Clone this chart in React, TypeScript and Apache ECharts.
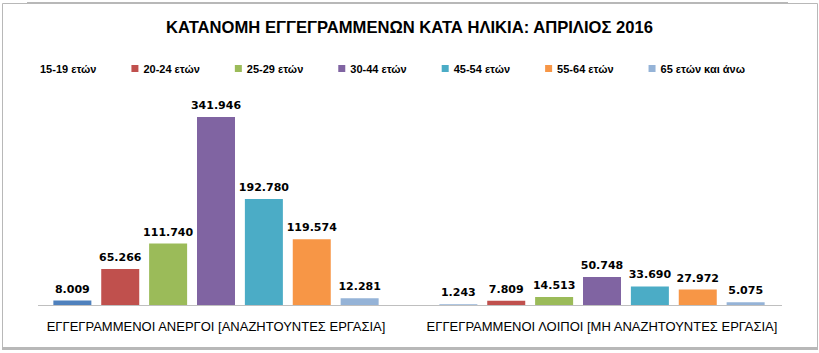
import React, { useEffect, useRef } from "react";
import * as echarts from "echarts";

const title = "ΚΑΤΑΝΟΜΗ ΕΓΓΕΓΡΑΜΜΕΝΩΝ ΚΑΤΑ ΗΛΙΚΙΑ: ΑΠΡΙΛΙΟΣ 2016";
const categories = [
  "ΕΓΓΕΓΡΑΜΜΕΝΟΙ ΑΝΕΡΓΟΙ [ΑΝΑΖΗΤΟΥΝΤΕΣ ΕΡΓΑΣΙΑ]",
  "ΕΓΓΕΓΡΑΜΜΕΝΟΙ ΛΟΙΠΟΙ [ΜΗ ΑΝΑΖΗΤΟΥΝΤΕΣ ΕΡΓΑΣΙΑ]",
];
const seriesNames = [
  "15-19 ετών",
  "20-24 ετών",
  "25-29 ετών",
  "30-44 ετών",
  "45-54 ετών",
  "55-64 ετών",
  "65 ετών και άνω",
];
const age1519 = [8009, 1243];
const age2024 = [65266, 7809];
const age2529 = [111740, 14513];
const age3044 = [341946, 50748];
const age4554 = [192780, 33690];
const age5564 = [119574, 27972];
const age65plus = [12281, 5075];
const seriesValues = [age1519, age2024, age2529, age3044, age4554, age5564, age65plus];
const colors = ["#4F81BD", "#C0504D", "#9BBB59", "#8064A2", "#4BACC6", "#F79646", "#95B3D7"];

const fmt = (v: number) => {
  const s = String(Math.round(v));
  return s.replace(/\B(?=(\d{3})+(?!\d))/g, ".");
};

export default function App() {
  const ref = useRef<HTMLDivElement>(null);
  useEffect(() => {
    if (!ref.current) return;
    const chart = echarts.init(ref.current, undefined, { renderer: "svg" });
    const series = seriesNames.map((name, i) => ({
      name,
      type: "bar",
      barWidth: 38,
      barGap: "26%",
      itemStyle: { color: colors[i] },
      label: {
        show: true,
        position: "top",
        distance: 6,
        formatter: (p: any) => fmt(p.value),
        fontFamily: "DejaVu Sans",
        fontSize: 11,
        fontWeight: "bold",
        color: "#000",
      },
      data: seriesValues[i].map((v, j) =>
        i === 0 && j === 1 ? { value: v, itemStyle: { color: "#95B3D7" } } : v
      ),
    }));
    chart.setOption({
      animation: false,
      backgroundColor: "#fff",
      title: {
        text: title,
        left: "center",
        top: 14,
        textStyle: {
          fontFamily: "Liberation Sans",
          fontWeight: "bold",
          fontSize: 16.6,
          color: "#000",
        },
      },
      legend: {
        top: 58,
        left: 23,
        itemWidth: 7,
        itemHeight: 7,
        itemGap: 35,
        icon: "rect",
        textStyle: {
          fontFamily: "Liberation Sans",
          fontSize: 11,
          fontWeight: "bold",
          color: "#000",
        },
        data: seriesNames.map((n, i) =>
          i === 0 ? { name: n, itemStyle: { color: "rgba(0,0,0,0)" } } : { name: n }
        ),
      },
      grid: { left: 23, right: 24, top: 85, bottom: 48 },
      xAxis: {
        type: "category",
        data: categories,
        axisLine: { show: false },
        axisTick: { show: false },
        axisLabel: {
          margin: 15,
          fontFamily: "Liberation Sans",
          fontSize: 13,
          color: "#000",
          interval: 0,
        },
      },
      yAxis: {
        type: "value",
        min: 0,
        max: 400000,
        show: false,
        splitLine: { show: false },
      },
      graphic: {
        elements: [
          {
            type: "rect",
            left: 2,
            top: 3,
            shape: { width: 815, height: 345 },
            style: { fill: "transparent", stroke: "#b8b8b8", lineWidth: 1 },
            silent: true,
            z: 100,
          },
          {
            type: "rect",
            left: 27,
            top: 2,
            shape: { width: 761, height: 2 },
            style: { fill: "#b8b8b8" },
            silent: true,
            z: 100,
          },
          {
            type: "rect",
            left: 2,
            top: 347,
            shape: { width: 816, height: 3 },
            style: { fill: "#b8b8b8" },
            silent: true,
            z: 100,
          },
          {
            type: "rect",
            left: 38,
            top: 305,
            shape: { width: 744, height: 1 },
            style: { fill: "#bfbfbf" },
            silent: true,
            z: 100,
          },
        ],
      },
      series,
    });
    return () => chart.dispose();
  }, []);
  return (
    <div
      ref={ref}
      style={{ position: "fixed", left: 0, top: 0, width: 819, height: 353 }}
    />
  );
}
